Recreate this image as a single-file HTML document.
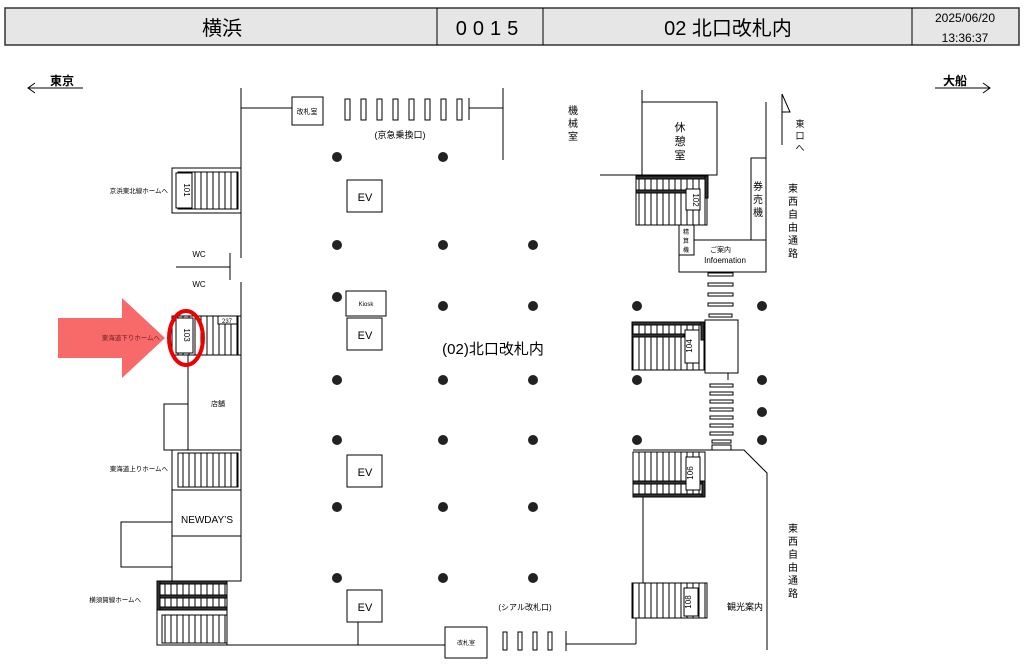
<!DOCTYPE html>
<html><head><meta charset="utf-8"><style>
html,body{margin:0;padding:0;background:#fff;}
svg{display:block;font-family:"Liberation Sans","Noto Sans CJK JP",sans-serif;}
</style></head><body>
<svg width="1024" height="667" viewBox="0 0 1024 667" xmlns="http://www.w3.org/2000/svg">
<defs>
<pattern id="esc" width="6" height="10" patternUnits="userSpaceOnUse"><line x1="3" y1="0" x2="3" y2="10" stroke="#000" stroke-width="1"/></pattern>
</defs>
<g stroke="#000" fill="none" stroke-width="1">
<!-- header -->
<rect x="5" y="8" width="1014" height="37" fill="#e6e6e6" stroke="#333" stroke-width="1.5"/>
<line x1="437" y1="8" x2="437" y2="45"/><line x1="543" y1="8" x2="543" y2="45"/><line x1="912" y1="8" x2="912" y2="45"/>
<!-- direction arrows -->
<line x1="28" y1="88" x2="83" y2="88"/><polyline points="35,83 28,88 35,93"/>
<line x1="935" y1="88" x2="990" y2="88"/><polyline points="983,83 990,88 983,93"/>
<!-- top wall -->
<line x1="241" y1="88" x2="241" y2="168"/>
<line x1="241" y1="108" x2="292" y2="108"/>
<rect x="292" y="97" width="31" height="28"/>
<rect x="345" y="99" width="5" height="21"/><rect x="361" y="99" width="5" height="21"/><rect x="377" y="99" width="5" height="21"/><rect x="393" y="99" width="5" height="21"/><rect x="409" y="99" width="5" height="21"/><rect x="425" y="99" width="5" height="21"/><rect x="441" y="99" width="5" height="21"/><rect x="457" y="99" width="5" height="21"/>
<line x1="469" y1="98" x2="469" y2="120"/><line x1="469" y1="108" x2="503" y2="108"/>
<line x1="503" y1="88" x2="503" y2="160"/>
<line x1="642" y1="90" x2="642" y2="102"/>
<rect x="642" y="102" width="75" height="73"/>
<line x1="600" y1="175" x2="642" y2="175"/>
<line x1="766" y1="102" x2="766" y2="272"/>
<rect x="751" y="158" width="15" height="82"/>
<rect x="679" y="240" width="87" height="32"/>
<rect x="679" y="225" width="15" height="30" fill="#fff"/>
<!-- east exit arrow -->
<line x1="782" y1="94" x2="782" y2="145"/><polyline points="782,94 790,112 782,112"/>
<!-- esc 102 -->
<rect x="636" y="178" width="71" height="47" fill="url(#esc)"/>
<rect x="636" y="176" width="71" height="3" fill="#333"/><rect x="636" y="190" width="50" height="3" fill="#333"/>
<rect x="705" y="176" width="3" height="22" fill="#333"/>
<rect x="686" y="189" width="14" height="21" fill="#fff"/>
<!-- crosswalk bars -->
<rect x="708" y="273" width="25" height="3"/><rect x="708" y="283" width="25" height="3"/><rect x="708" y="293" width="25" height="3"/><rect x="708" y="303" width="25" height="3"/><rect x="709" y="314" width="23" height="3"/>
<rect x="705" y="320" width="33" height="53" fill="#fff"/>
<rect x="632" y="322" width="72" height="48" fill="url(#esc)"/>
<rect x="632" y="322" width="72" height="3" fill="#333"/><rect x="632" y="334" width="52" height="3" fill="#333"/><rect x="701" y="322" width="3" height="18" fill="#333"/>
<rect x="685" y="330" width="14" height="33" fill="#fff"/>
<line x1="728" y1="373" x2="728" y2="380"/>
<rect x="710" y="384" width="23" height="3"/><rect x="710" y="392" width="23" height="3"/><rect x="710" y="400" width="23" height="3"/><rect x="710" y="408" width="23" height="3"/><rect x="710" y="416" width="23" height="3"/><rect x="710" y="424" width="23" height="3"/><rect x="710" y="432" width="23" height="3"/><rect x="712" y="440" width="19" height="3"/><rect x="712" y="445" width="19" height="5"/>
<polyline points="633,450 744,450 767,473 767,650"/>
<!-- esc 106 -->
<rect x="633" y="452" width="72" height="45" fill="url(#esc)"/>
<rect x="633" y="481" width="72" height="3" fill="#333"/><rect x="633" y="494" width="72" height="3" fill="#333"/><rect x="702" y="481" width="3" height="16" fill="#333"/>
<rect x="686" y="457" width="14" height="33" fill="#fff"/>
<line x1="643" y1="497" x2="643" y2="583"/>
<!-- esc 108 -->
<rect x="632" y="583" width="75" height="35" fill="url(#esc)"/>
<rect x="684" y="588" width="14" height="28" fill="#fff"/>
<line x1="636" y1="618" x2="636" y2="644"/>
<!-- bottom wall -->
<polyline points="160,645 445,645"/>
<rect x="445" y="627" width="42" height="31"/>
<rect x="503" y="632" width="4" height="18"/><rect x="518" y="632" width="4" height="18"/><rect x="533" y="632" width="4" height="18"/><rect x="548" y="632" width="4" height="18"/>
<line x1="566" y1="631" x2="566" y2="651"/><line x1="566" y1="644" x2="636" y2="644"/>
<line x1="358" y1="622" x2="358" y2="645"/>
<!-- EV etc -->
<rect x="347" y="180" width="35" height="32"/>
<rect x="346" y="291" width="40" height="25"/>
<rect x="347" y="318" width="35" height="32"/>
<rect x="347" y="455" width="35" height="32"/>
<rect x="347" y="590" width="35" height="32"/>
<!-- left side -->
<rect x="172" y="168" width="69" height="45"/>
<rect x="178" y="172" width="60" height="37" fill="url(#esc)"/>
<rect x="176" y="173" width="16" height="35" fill="#fff"/>
<line x1="241" y1="213" x2="241" y2="258"/>
<line x1="176" y1="267" x2="230" y2="267"/><line x1="230" y1="253" x2="230" y2="280"/>
<line x1="241" y1="282" x2="241" y2="318"/>
<rect x="172" y="316" width="69" height="39"/>
<rect x="178" y="316" width="60" height="39" fill="url(#esc)"/>
<rect x="176" y="318" width="17" height="35" fill="#fff"/>
<rect x="218" y="316" width="19" height="8" fill="#fff"/>
<rect x="188" y="355" width="53" height="95"/>
<rect x="164" y="404" width="24" height="46"/>
<rect x="172" y="450" width="69" height="40"/>
<rect x="178" y="453" width="60" height="34" fill="url(#esc)"/>
<rect x="172" y="490" width="69" height="46"/>
<rect x="121" y="522" width="51" height="45"/>
<rect x="172" y="536" width="69" height="45"/>
<rect x="157" y="581" width="70" height="64"/>
<rect x="160" y="584" width="67" height="26" fill="url(#esc)"/>
<rect x="157" y="581" width="70" height="3" fill="#333"/><rect x="157" y="595" width="70" height="3" fill="#333"/><rect x="157" y="607" width="70" height="3" fill="#333"/><rect x="157" y="581" width="3" height="29" fill="#333"/>
<rect x="162" y="615" width="65" height="28" fill="url(#esc)"/>
</g>
<!-- pillars -->
<g fill="#222">
<circle cx="337" cy="157" r="5"/><circle cx="443" cy="157" r="5"/>
<circle cx="337" cy="245" r="5"/><circle cx="443" cy="245" r="5"/><circle cx="533" cy="245" r="5"/>
<circle cx="337" cy="297" r="5"/><circle cx="443" cy="306" r="5"/><circle cx="533" cy="306" r="5"/><circle cx="637" cy="306" r="5"/><circle cx="762" cy="306" r="5"/>
<circle cx="337" cy="380" r="5"/><circle cx="443" cy="380" r="5"/><circle cx="533" cy="380" r="5"/><circle cx="637" cy="380" r="5"/><circle cx="762" cy="380" r="5"/>
<circle cx="762" cy="412" r="5"/>
<circle cx="337" cy="440" r="5"/><circle cx="443" cy="440" r="5"/><circle cx="533" cy="440" r="5"/><circle cx="637" cy="440" r="5"/><circle cx="762" cy="440" r="5"/>
<circle cx="337" cy="507" r="5"/><circle cx="443" cy="507" r="5"/><circle cx="533" cy="507" r="5"/>
<circle cx="337" cy="578" r="5"/><circle cx="443" cy="578" r="5"/><circle cx="533" cy="578" r="5"/>
</g>
<!-- red arrow & circle -->
<polygon points="58,318 122,318 122,298 165,338 122,378 122,358 58,358" fill="#f86a6a"/>
<ellipse cx="186" cy="338" rx="17" ry="27" fill="none" stroke="#e00" stroke-width="4"/>
<!-- text -->
<g fill="#000" text-anchor="middle">
<text x="222" y="35" font-size="20">横浜</text>
<text x="490" y="35" font-size="20" letter-spacing="6">0015</text>
<text x="728" y="35" font-size="20">02 北口改札内</text>
<text x="965" y="22" font-size="12">2025/06/20</text>
<text x="965" y="42" font-size="12">13:36:37</text>
<text x="62" y="85" font-size="12" font-weight="bold">東京</text>
<text x="955" y="85" font-size="12" font-weight="bold">大船</text>
<text x="307" y="114" font-size="7">改札室</text>
<text x="400" y="138" font-size="9">(京急乗換口)</text>
<text x="573" y="114" font-size="10">機</text><text x="573" y="127" font-size="10">械</text><text x="573" y="140" font-size="10">室</text>
<text x="680" y="131" font-size="11">休</text><text x="680" y="145" font-size="11">憩</text><text x="680" y="159" font-size="11">室</text>
<text x="800" y="127" font-size="9">東</text><text x="800" y="139" font-size="9">口</text><text x="800" y="151" font-size="9">へ</text>
<g font-size="10"><text x="793" y="192">東</text><text x="793" y="205">西</text><text x="793" y="218">自</text><text x="793" y="231">由</text><text x="793" y="244">通</text><text x="793" y="257">路</text></g>
<g font-size="10"><text x="793" y="532">東</text><text x="793" y="545">西</text><text x="793" y="558">自</text><text x="793" y="571">由</text><text x="793" y="584">通</text><text x="793" y="597">路</text></g>
<text x="758" y="190" font-size="10">券</text><text x="758" y="203" font-size="10">売</text><text x="758" y="216" font-size="10">機</text>
<text x="686" y="234" font-size="6">精</text><text x="686" y="243" font-size="6">算</text><text x="686" y="252" font-size="6">機</text>
<text x="710" y="252" font-size="7" text-anchor="start" x2="">ご案内</text>
<text x="725" y="263" font-size="8">Infoemation</text>
<text x="693" y="200" font-size="8" transform="rotate(90 693 200)">102</text>
<text x="692" y="346" font-size="8" transform="rotate(-90 692 346)">104</text>
<text x="693" y="473" font-size="8" transform="rotate(-90 693 473)">106</text>
<text x="691" y="602" font-size="8" transform="rotate(-90 691 602)">108</text>
<text x="184" y="190" font-size="8" transform="rotate(90 184 190)">101</text>
<text x="184" y="335" font-size="8" transform="rotate(90 184 335)">103</text>
<text x="227" y="323" font-size="6">237</text>
<text x="365" y="201" font-size="11">EV</text>
<text x="366" y="306" font-size="6">Kiosk</text>
<text x="365" y="339" font-size="11">EV</text>
<text x="365" y="476" font-size="11">EV</text>
<text x="365" y="611" font-size="11">EV</text>
<text x="493" y="354" font-size="15">(02)北口改札内</text>
<text x="525" y="610" font-size="8">(シアル改札口)</text>
<text x="466" y="645" font-size="6">改札室</text>
<text x="745" y="610" font-size="9">観光案内</text>
<text x="199" y="257" font-size="8">WC</text>
<text x="199" y="287" font-size="8">WC</text>
<text x="218" y="406" font-size="7">店舗</text>
<text x="207" y="523" font-size="10">NEWDAY’S</text>
</g>
<g fill="#000" text-anchor="end" font-size="6.5">
<text x="168" y="193">京浜東北線ホームへ</text>
<text x="160" y="340" fill="#702020">東海道下りホームへ</text>
<text x="168" y="471">東海道上りホームへ</text>
<text x="141" y="602">横須賀線ホームへ</text>
</g>
</svg>
</body></html>
